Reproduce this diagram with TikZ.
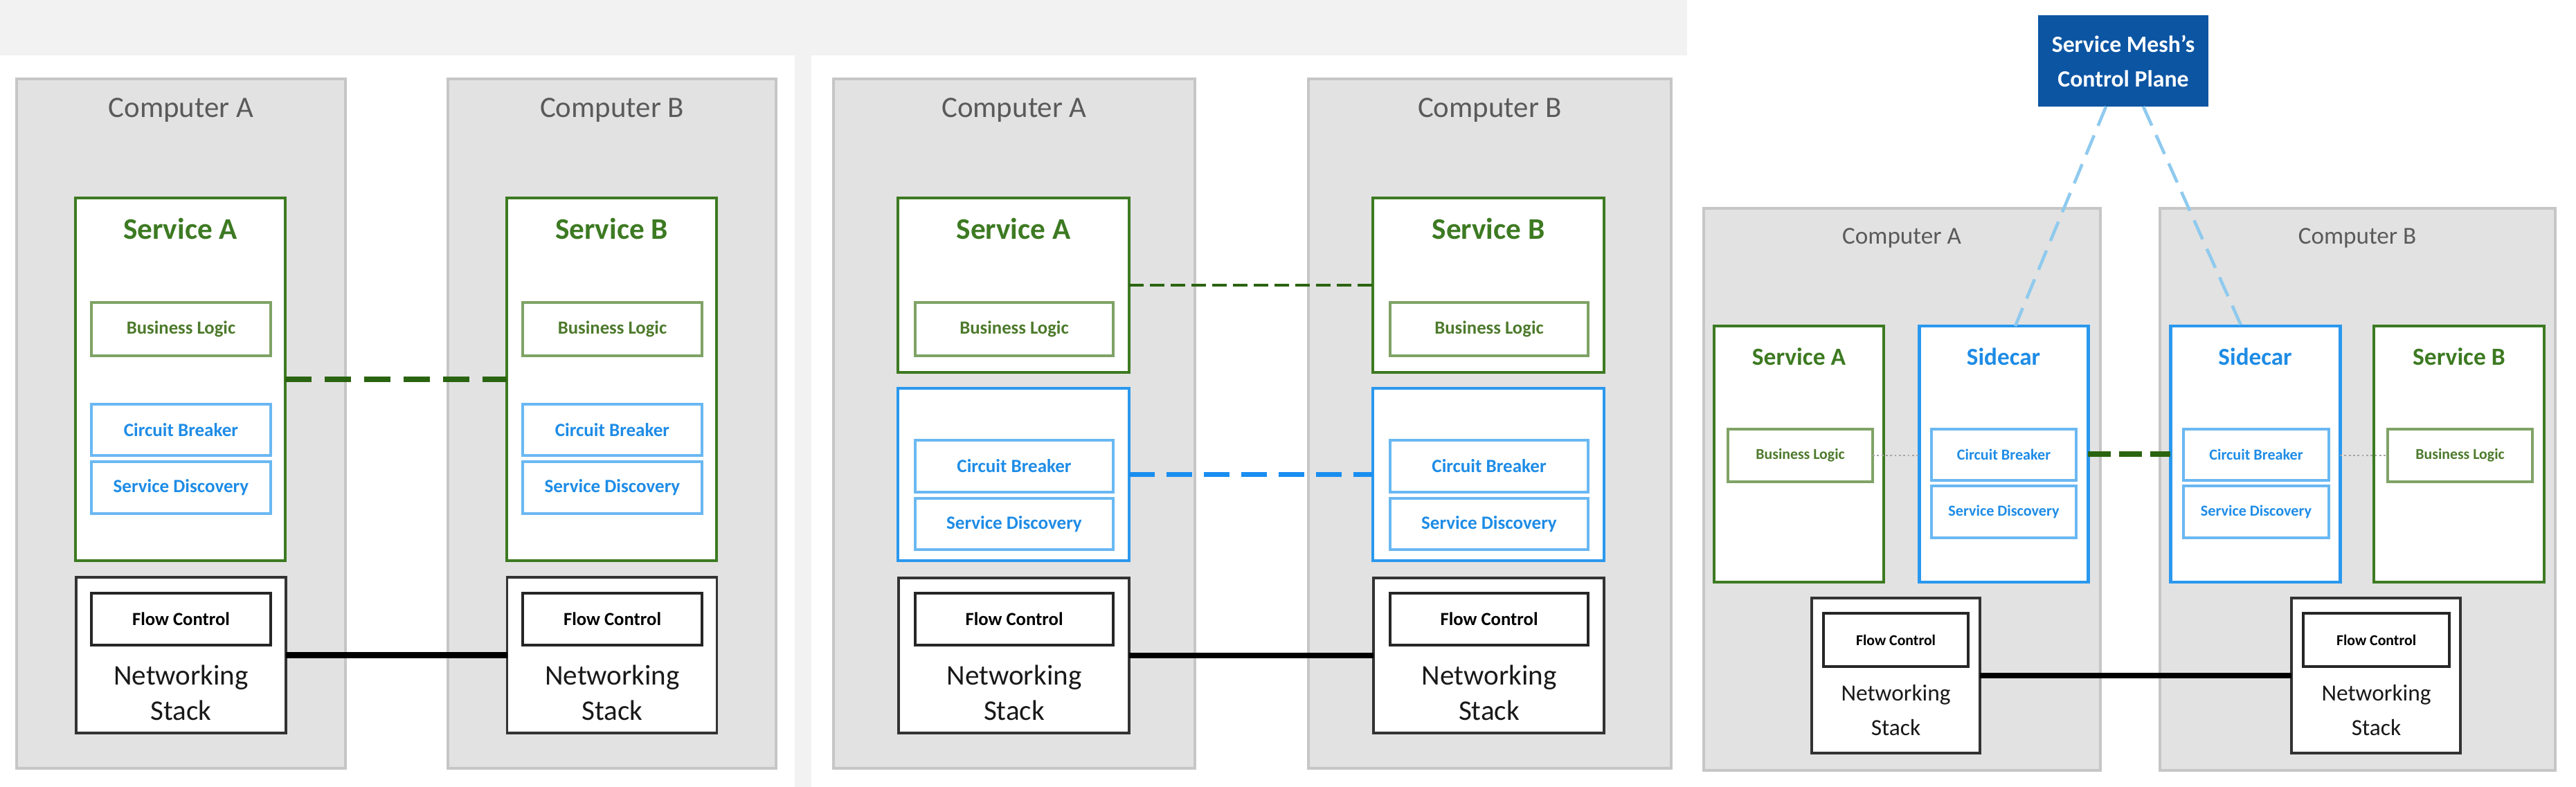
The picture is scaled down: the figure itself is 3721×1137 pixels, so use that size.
\documentclass[tikz,border=0pt]{standalone}
\usepackage{fontspec}
\setmainfont{Carlito}
\usetikzlibrary{positioning}
\definecolor{compfill}{HTML}{E2E2E2}
\definecolor{compline}{HTML}{C6C6C6}
\definecolor{comptext}{HTML}{5A5A5A}
\definecolor{svcgreen}{HTML}{3D7A22}
\definecolor{logicgreen}{HTML}{7FA366}
\definecolor{logictext}{HTML}{4D7A2C}
\definecolor{carblue}{HTML}{2A98EE}
\definecolor{modblue}{HTML}{6AB8F2}
\definecolor{modtext}{HTML}{1E8CE6}
\definecolor{meshblue}{HTML}{0C55A3}
\definecolor{dashgreen}{HTML}{2B6410}
\definecolor{dashblue}{HTML}{1A8EF0}
\definecolor{ctrlblue}{HTML}{8FCAEE}
\tikzset{x=0.1mm, y=-0.1mm, % one unit is one pixel of the screenshot
        box/.style={ % Common to every rectangle
            rectangle, inner sep=0pt, outer sep=0pt},
        computer/.style={box, fill=compfill, draw=compline, line width=0.9pt},
        service/.style={box, fill=white, draw=svcgreen, line width=1.3pt},
        sidecar/.style={box, fill=white, draw=carblue, line width=1.4pt},
        logic/.style={box, fill=white, draw=logicgreen, line width=0.9pt,
            text=logictext, font=\bfseries\fontsize{7.6}{9}\selectfont},
        module/.style={box, fill=white, draw=modblue, line width=0.9pt,
            text=modtext, font=\bfseries\fontsize{7.7}{9}\selectfont},
        netstack/.style={box, fill=white, draw=black!80, line width=1.1pt},
        flow/.style={box, fill=white, draw=black!85, line width=1pt,
            font=\bfseries\fontsize{7.6}{9}\selectfont},
        plane/.style={box, fill=meshblue, text=white, align=center,
            font=\bfseries\fontsize{9.6}{14.2}\selectfont},
        comptitle/.style={text=comptext, font=\fontsize{12.2}{14}\selectfont},
        svctitle/.style={text=svcgreen, font=\bfseries\fontsize{12.3}{14}\selectfont},
        cartitle/.style={text=modtext, font=\bfseries\fontsize{10}{12}\selectfont},
        nettext/.style={text=black!90, align=center, font=\fontsize{11.7}{14.5}\selectfont},
        wire/.style={draw=black, line width=2.5pt},
        appdash/.style={draw=dashgreen, line width=2pt, dash pattern=on 3.8mm off 1.9mm},
        libdash/.style={draw=dashblue, line width=2.2pt, dash pattern=on 3.7mm off 1.7mm},
        ctrldash/.style={draw=ctrlblue, line width=1.3pt, dash pattern=on 3mm off 1.5mm}
        }

\begin{document}
\begin{tikzpicture}
    \useasboundingbox (0,0) rectangle (3721,1137);
    \fill[white] (0,0) rectangle (3721,1137);
    \fill[black!5] (0,0) rectangle (2437,80);
    \fill[black!5] (1148,80) rectangle (1172,1137);

    % first picture: libraries inside each service
    \node[computer, minimum width=47.5mm, minimum height=99.6mm] (compA1) at (261.5,612) {};
    \node[computer, minimum width=47.4mm, minimum height=99.6mm] (compB1) at (884,612) {};
    \node[comptitle] (compA1t) at (261.5,159) {Computer A};
    \node[comptitle] (compB1t) at (884,159) {Computer B};

    \node[service, minimum width=30.3mm, minimum height=52.4mm] (svcA1) at (260.5,548) {};
    \node[service, minimum width=30.3mm, minimum height=52.4mm] (svcB1) at (883.5,548) {};
    \node[svctitle] (svcA1t) at (260.5,330) {Service A};
    \node[svctitle] (svcB1t) at (883.5,330) {Service B};
    \node[logic, minimum width=25.9mm, minimum height=7.7mm] (blA1) at (261.5,475.5) {Business Logic};
    \node[logic, minimum width=25.9mm, minimum height=7.7mm] (blB1) at (884.5,475.5) {Business Logic};
    \node[module, minimum width=25.9mm, minimum height=7.4mm] (cbA1) at (261.5,621) {Circuit Breaker};
    \node[module, minimum width=25.9mm, minimum height=7.4mm] (cbB1) at (884.5,621) {Circuit Breaker};
    \node[module, minimum width=25.9mm, minimum height=7.5mm] (sdA1) at (261.5,704.5) {Service Discovery};
    \node[module, minimum width=25.9mm, minimum height=7.5mm] (sdB1) at (884.5,704.5) {Service Discovery};

    \node[netstack, minimum width=30.3mm, minimum height=22.5mm] (netA1) at (261.5,946.5) {};
    \node[netstack, minimum width=30.3mm, minimum height=22.5mm] (netB1) at (884,946.5) {};
    \node[flow, minimum width=25.9mm, minimum height=7.5mm] (fcA1) at (261.5,894.5) {Flow Control};
    \node[flow, minimum width=25.9mm, minimum height=7.5mm] (fcB1) at (884.5,894.5) {Flow Control};
    \node[nettext] (nsA1) at (261.5,1001) {Networking\\Stack};
    \node[nettext] (nsB1) at (884.5,1001) {Networking\\Stack};

    \draw[appdash] (svcA1.east) -- (svcB1.west);
    \draw[wire] (netA1.east) -- (netB1.west);

    % second picture: libraries split from the business logic
    \node[computer, minimum width=52.2mm, minimum height=99.6mm] (compA2) at (1465,612) {};
    \node[computer, minimum width=52.4mm, minimum height=99.6mm] (compB2) at (2152,612) {};
    \node[comptitle] (compA2t) at (1465,159) {Computer A};
    \node[comptitle] (compB2t) at (2152,159) {Computer B};

    \node[service, minimum width=33.4mm, minimum height=25.2mm] (svcA2) at (1464,412) {};
    \node[service, minimum width=33.4mm, minimum height=25.2mm] (svcB2) at (2150,412) {};
    \node[svctitle] (svcA2t) at (1464,330) {Service A};
    \node[svctitle] (svcB2t) at (2150,330) {Service B};
    \node[logic, minimum width=28.6mm, minimum height=7.7mm] (blA2) at (1465,475.5) {Business Logic};
    \node[logic, minimum width=28.6mm, minimum height=7.7mm] (blB2) at (2151,475.5) {Business Logic};

    \node[sidecar, minimum width=33.4mm, minimum height=24.9mm] (libA2) at (1464,685.5) {};
    \node[sidecar, minimum width=33.4mm, minimum height=24.9mm] (libB2) at (2150,685.5) {};
    \node[module, minimum width=28.6mm, minimum height=7.5mm] (cbA2) at (1465,673.5) {Circuit Breaker};
    \node[module, minimum width=28.6mm, minimum height=7.5mm] (cbB2) at (2151,673.5) {Circuit Breaker};
    \node[module, minimum width=28.6mm, minimum height=7.4mm] (sdA2) at (1465,757) {Service Discovery};
    \node[module, minimum width=28.6mm, minimum height=7.4mm] (sdB2) at (2151,757) {Service Discovery};

    \node[netstack, minimum width=33.3mm, minimum height=22.4mm] (netA2) at (1464.5,947) {};
    \node[netstack, minimum width=33.3mm, minimum height=22.4mm] (netB2) at (2150.5,947) {};
    \node[flow, minimum width=28.6mm, minimum height=7.5mm] (fcA2) at (1465,894.5) {Flow Control};
    \node[flow, minimum width=28.6mm, minimum height=7.5mm] (fcB2) at (2151,894.5) {Flow Control};
    \node[nettext] (nsA2) at (1465,1001) {Networking\\Stack};
    \node[nettext] (nsB2) at (2151,1001) {Networking\\Stack};

    \draw[draw=dashgreen, line width=1.2pt, dash pattern=on 2.1mm off 0.9mm] (svcA2.east) -- (svcB2.west);
    \draw[libdash] (libA2.east) -- (libB2.west);
    \draw[wire] (netA2.east) -- (netB2.west);

    % third picture: sidecars and the control plane
    \node[plane, minimum width=24.6mm, minimum height=13.2mm] (ctrl) at (3067,88) {Service Mesh's\\Control Plane};

    \node[computer, minimum width=57.3mm, minimum height=81.2mm] (compA3) at (2747.5,707) {};
    \node[computer, minimum width=57.1mm, minimum height=81.2mm] (compB3) at (3405.5,707) {};
    \node[comptitle, font=\fontsize{10}{12}\selectfont] (compA3t) at (2747,344) {Computer A};
    \node[comptitle, font=\fontsize{10}{12}\selectfont] (compB3t) at (3405,344) {Computer B};

    \node[service, minimum width=24.5mm, minimum height=37mm] (svcA3) at (2598.5,656) {};
    \node[sidecar, minimum width=24.4mm, minimum height=37mm] (carA3) at (2894,656) {};
    \node[sidecar, minimum width=24.5mm, minimum height=37mm] (carB3) at (3257.5,656) {};
    \node[service, minimum width=24.6mm, minimum height=37mm] (svcB3) at (3552,656) {};
    \node[svctitle, font=\bfseries\fontsize{10.1}{12}\selectfont] (svcA3t) at (2598.5,515) {Service A};
    \node[cartitle] (carA3t) at (2894,515) {Sidecar};
    \node[cartitle] (carB3t) at (3257.5,515) {Sidecar};
    \node[svctitle, font=\bfseries\fontsize{10.1}{12}\selectfont] (svcB3t) at (3552,515) {Service B};

    \node[logic, minimum width=20.9mm, minimum height=7.6mm, font=\bfseries\fontsize{6.2}{8}\selectfont] (blA3) at (2600.5,658) {Business Logic};
    \node[logic, minimum width=20.9mm, minimum height=7.6mm, font=\bfseries\fontsize{6.2}{8}\selectfont] (blB3) at (3553.5,658) {Business Logic};
    \node[module, minimum width=20.9mm, minimum height=7.4mm, font=\bfseries\fontsize{6.3}{8}\selectfont] (cbA3) at (2894.5,657) {Circuit Breaker};
    \node[module, minimum width=21mm, minimum height=7.4mm, font=\bfseries\fontsize{6.3}{8}\selectfont] (cbB3) at (3259,657) {Circuit Breaker};
    \node[module, minimum width=20.9mm, minimum height=7.5mm, font=\bfseries\fontsize{6.3}{8}\selectfont] (sdA3) at (2894.5,739.5) {Service Discovery};
    \node[module, minimum width=21mm, minimum height=7.5mm, font=\bfseries\fontsize{6.3}{8}\selectfont] (sdB3) at (3259,739.5) {Service Discovery};

    \node[netstack, minimum width=24.3mm, minimum height=22.4mm] (netA3) at (2738.5,976) {};
    \node[netstack, minimum width=24.4mm, minimum height=22.4mm] (netB3) at (3432,976) {};
    \node[flow, minimum width=20.9mm, minimum height=7.7mm, font=\bfseries\fontsize{6.2}{8}\selectfont] (fcA3) at (2738.5,924.5) {Flow Control};
    \node[flow, minimum width=21.1mm, minimum height=7.7mm, font=\bfseries\fontsize{6.2}{8}\selectfont] (fcB3) at (3432.5,924.5) {Flow Control};
    \node[nettext, font=\fontsize{9.5}{14}\selectfont] (nsA3) at (2738.5,1026) {Networking\\Stack};
    \node[nettext, font=\fontsize{9.5}{14}\selectfont] (nsB3) at (3432.5,1026) {Networking\\Stack};

    \draw[draw=black!35, line width=0.8pt, densely dotted] (blA3.east) -- (blA3.east -| carA3.west);
    \draw[draw=black!35, line width=0.8pt, densely dotted] (carB3.east |- blB3.west) -- (blB3.west);
    \draw[draw=dashgreen, line width=2pt, dash pattern=on 3.3mm off 1.2mm] (carA3.east) -- (carB3.west);
    \draw[wire] (netA3.east) -- (netB3.west);
    \draw[ctrldash] ([xshift=-2.5mm]ctrl.south) -- ([xshift=1.7mm]carA3.north);
    \draw[ctrldash] ([xshift=2.9mm]ctrl.south) -- ([xshift=-2mm]carB3.north);
\end{tikzpicture}
\end{document}
